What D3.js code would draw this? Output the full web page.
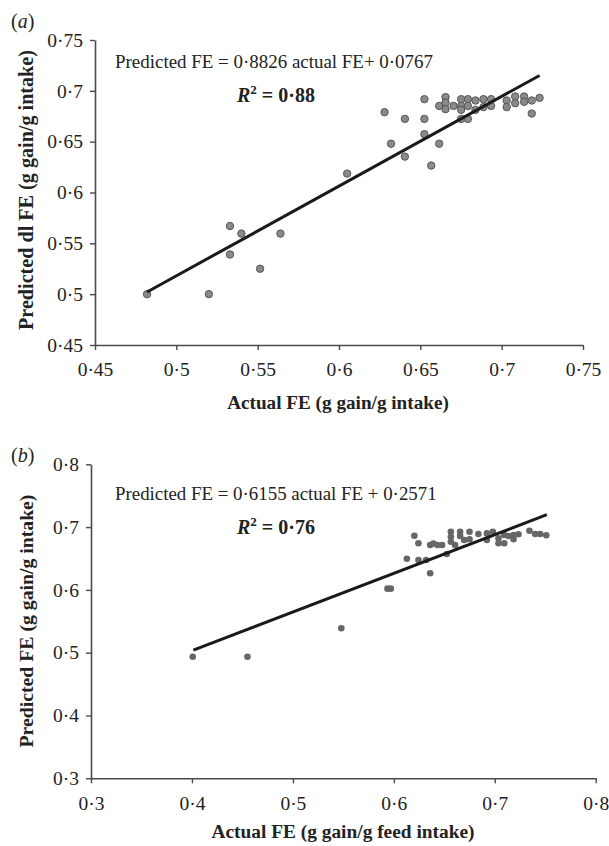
<!DOCTYPE html>
<html>
<head>
<meta charset="utf-8">
<script src="https://cdn.jsdelivr.net/npm/d3@7"></script>
<style>
  body { margin: 0; background: #fff; }
  svg text { font-family: "Liberation Serif", "Times New Roman", serif; fill: #222; }
</style>
</head>
<body>
<div id="app"></div>
<script>
// panel (a) data
const actualA = [0.482, 0.520, 0.533, 0.540, 0.533, 0.5515, 0.564,
  0.605, 0.628, 0.632, 0.6405, 0.6405, 0.6525, 0.6525, 0.6525, 0.6567, 0.6616, 0.6616,
  0.6655, 0.6655, 0.6655, 0.6704, 0.6751, 0.6751, 0.6751, 0.6751, 0.6792, 0.6792, 0.6792,
  0.6839, 0.6839, 0.6888, 0.6888, 0.6935, 0.6935, 0.7031, 0.7031, 0.7083, 0.7083,
  0.7138, 0.7138, 0.7185, 0.7185, 0.7233]
const predA = [0.500, 0.500, 0.567, 0.5596, 0.539, 0.525, 0.5596,
  0.6186, 0.679, 0.648, 0.6724, 0.6353, 0.6918, 0.6724, 0.6574, 0.6265, 0.648, 0.6852,
  0.6938, 0.6885, 0.682, 0.6852, 0.6918, 0.6852, 0.6813, 0.6724, 0.6918, 0.6852, 0.6724,
  0.6905, 0.6813, 0.6918, 0.684, 0.6918, 0.6852, 0.6905, 0.684, 0.6944, 0.6879,
  0.6944, 0.6892, 0.6905, 0.6777, 0.6931]
const slopeA = 0.8826
const interceptA = 0.0767
const lineRangeA = [0.482, 0.7233]
const ticksA = [0.45, 0.5, 0.55, 0.6, 0.65, 0.7, 0.75]
const tickLabelsA = ['0·45', '0·5', '0·55', '0·6', '0·65', '0·7', '0·75']

// panel (b) data
const actualB = [0.4008, 0.455, 0.548, 0.5937, 0.597,
  0.6129, 0.6244, 0.632, 0.636, 0.6204, 0.6244, 0.636, 0.6392, 0.6432, 0.6478, 0.6525,
  0.6565, 0.6565, 0.6565, 0.6607, 0.6657, 0.6657, 0.6697, 0.675, 0.675, 0.6838,
  0.6922, 0.6922, 0.6981, 0.7037, 0.7037, 0.7094, 0.7094, 0.7136, 0.7186, 0.7186,
  0.7235, 0.7344, 0.740, 0.745, 0.751]
const predB = [0.4936, 0.4936, 0.539, 0.602, 0.602,
  0.6497, 0.6476, 0.6476, 0.6264, 0.6863, 0.6742, 0.6715, 0.674, 0.6715, 0.6715, 0.6572,
  0.6927, 0.6847, 0.6767, 0.6715, 0.6927, 0.6858, 0.6795, 0.6927, 0.6806, 0.689,
  0.690, 0.6795, 0.6927, 0.6822, 0.6742, 0.6742, 0.6874, 0.6858, 0.6874, 0.6806,
  0.6885, 0.6943, 0.689, 0.689, 0.687]
const slopeB = 0.6155
const interceptB = 0.2571
const lineRangeB = [0.4014, 0.7516]
const ticksB = [0.3, 0.4, 0.5, 0.6, 0.7, 0.8]
const tickLabelsB = ['0·3', '0·4', '0·5', '0·6', '0·7', '0·8']

const W = 609, H = 846
const svg = d3.select('#app').append('svg')
    .attr('width', W)
    .attr('height', H)

// scale a text's font size so it spans the given width
function fitText (sel, width) {
    const fs = +sel.attr('font-size')
    const len = sel.node().getComputedTextLength()
    if (len > 0) sel.attr('font-size', (fs * width / len).toFixed(2))
    return sel
}

function drawPanel (opt) {
    const g = svg.append('g')
    const x = d3.scaleLinear().domain(opt.domain).range(opt.xRange)
    const y = d3.scaleLinear().domain(opt.domain).range(opt.yRange)
    const fmt = (d) => opt.labels[opt.ticks.indexOf(d)]

    const xAxis = g.append('g')
        .attr('transform', `translate(0,${opt.yRange[0]})`)
        .call(d3.axisBottom(x).tickValues(opt.ticks).tickFormat(fmt).tickSize(5).tickSizeOuter(0))
    const yAxis = g.append('g')
        .attr('transform', `translate(${opt.xRange[0]},0)`)
        .call(d3.axisLeft(y).tickValues(opt.ticks).tickFormat(fmt).tickSize(5).tickSizeOuter(0))

    for (const ax of [xAxis, yAxis]) {
        ax.select('.domain').attr('stroke', '#4a4a4a').attr('stroke-width', 1.6)
        ax.selectAll('.tick line').attr('stroke', '#4a4a4a').attr('stroke-width', 1.4)
        ax.selectAll('.tick text')
            .attr('font-size', 19.5)
            .attr('fill', '#222')
    }
    xAxis.selectAll('.tick text').attr('dy', '1.2em')
    yAxis.selectAll('.tick text').attr('x', -12)

    // points
    g.append('g').selectAll('circle')
        .data(opt.actual.map((a, i) => [a, opt.pred[i]]))
        .join('circle')
            .attr('cx', (d) => x(d[0]))
            .attr('cy', (d) => y(d[1]))
            .attr('r', opt.r)
            .attr('fill', opt.fill)
            .attr('stroke', opt.stroke)
            .attr('stroke-width', opt.stroke === 'none' ? 0 : 1)

    // regression line
    g.append('line')
        .attr('x1', x(opt.lineRange[0]))
        .attr('y1', y(opt.slope * opt.lineRange[0] + opt.intercept))
        .attr('x2', x(opt.lineRange[1]))
        .attr('y2', y(opt.slope * opt.lineRange[1] + opt.intercept))
        .attr('stroke', '#1a1a1a')
        .attr('stroke-width', 3)

    // panel letter
    const lt = g.append('text')
        .attr('x', 11)
        .attr('y', opt.letterY)
        .attr('font-size', 20)
    lt.append('tspan').text('(')
    lt.append('tspan').attr('font-style', 'italic').text(opt.letter)
    lt.append('tspan').text(')')

    // equation and R²
    const eq = g.append('text')
        .attr('x', 115)
        .attr('y', opt.eqY)
        .attr('font-size', 19)
        .text(opt.eq)
    fitText(eq, opt.eqW)
    const r2 = g.append('text')
        .attr('x', 237)
        .attr('y', opt.eqY + 34)
        .attr('font-size', 20)
        .attr('font-weight', 'bold')
    r2.append('tspan').attr('font-style', 'italic').text('R')
    r2.append('tspan').attr('dy', -8).attr('font-size', 13).text('2')
    r2.append('tspan').attr('dy', 8).text(' = ' + opt.r2)

    // axis titles
    const xt = g.append('text')
        .attr('x', opt.xTitleX)
        .attr('y', opt.xTitleY)
        .attr('text-anchor', 'middle')
        .attr('font-size', 19.5)
        .attr('font-weight', 'bold')
        .text(opt.xTitle)
    fitText(xt, opt.xTitleW)
    const yt = g.append('text')
        .attr('transform', `translate(${opt.yTitleX},${opt.yTitleY}) rotate(-90)`)
        .attr('text-anchor', 'middle')
        .attr('font-size', 19.5)
        .attr('font-weight', 'bold')
        .text(opt.yTitle)
    fitText(yt, opt.yTitleW)
}

drawPanel({
    domain: [0.45, 0.75], xRange: [95, 583], yRange: [345, 40],
    ticks: ticksA, labels: tickLabelsA,
    actual: actualA, pred: predA, r: 3.7, fill: '#8a8a8a', stroke: '#555',
    slope: slopeA, intercept: interceptA, lineRange: lineRangeA,
    letter: 'a', letterY: 28,
    eq: 'Predicted FE = 0·8826 actual FE+ 0·0767', eqY: 68, eqW: 318, r2: '0·88',
    xTitle: 'Actual FE (g gain/g intake)', xTitleX: 338, xTitleY: 409, xTitleW: 222,
    yTitle: 'Predicted dl FE (g gain/g intake)', yTitleX: 33, yTitleY: 190, yTitleW: 280
})

drawPanel({
    domain: [0.3, 0.8], xRange: [91, 595.7], yRange: [778.3, 464.3],
    ticks: ticksB, labels: tickLabelsB,
    actual: actualB, pred: predB, r: 3.3, fill: '#666', stroke: 'none',
    slope: slopeB, intercept: interceptB, lineRange: lineRangeB,
    letter: 'b', letterY: 462,
    eq: 'Predicted FE = 0·6155 actual FE + 0·2571', eqY: 500, eqW: 322, r2: '0·76',
    xTitle: 'Actual FE (g gain/g feed intake)', xTitleX: 343, xTitleY: 838, xTitleW: 263,
    yTitle: 'Predicted FE (g gain/g  intake)', yTitleX: 33, yTitleY: 621, yTitleW: 253
})
</script>
</body>
</html>
